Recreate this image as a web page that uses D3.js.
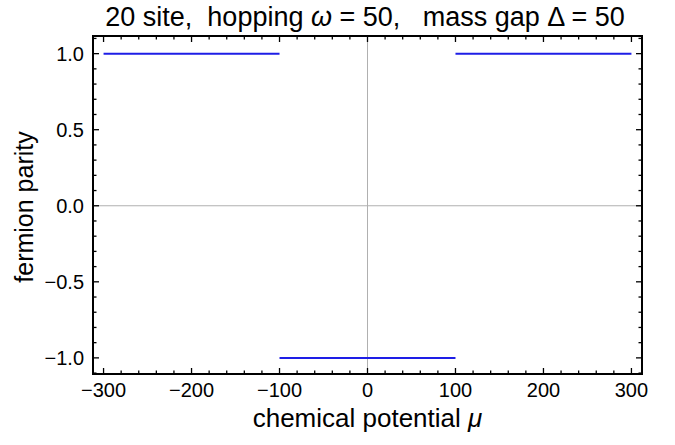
<!DOCTYPE html>
<html>
<head>
<meta charset="utf-8">
<script src="https://cdn.jsdelivr.net/npm/d3@7"></script>
<style>
  body { margin: 0; background: #fff; }
  svg text { font-family: "Liberation Sans", Arial, sans-serif; fill: #000; white-space: pre; }
</style>
</head>
<body>
<div id="chart"></div>
<script>
// step segments of the parity curve
const segStart = [-300, -100, 100];
const segEnd = [-100, 100, 300];
const segValue = [1, -1, 1];

const xTicks = [-300, -200, -100, 0, 100, 200, 300];
const yTicks = [-1.0, -0.5, 0.0, 0.5, 1.0];

const W = 675, H = 445;
const frame = { left: 93, right: 642, top: 36, bottom: 374 };

const svg = d3.select("#chart").append("svg")
    .attr("width", W)
    .attr("height", H);

const x = d3.scaleLinear().domain([-312, 312]).range([frame.left, frame.right]);
const y = d3.scaleLinear().domain([-1.106, 1.116]).range([frame.bottom, frame.top]);

// zero lines
svg.append("line")
    .attr("x1", x(0)).attr("x2", x(0))
    .attr("y1", frame.top).attr("y2", frame.bottom)
    .attr("stroke", "#b0b0b0").attr("stroke-width", 1);
svg.append("line")
    .attr("x1", frame.left).attr("x2", frame.right)
    .attr("y1", y(0)).attr("y2", y(0))
    .attr("stroke", "#b0b0b0").attr("stroke-width", 1);

// data
svg.selectAll("line.seg")
    .data(segValue)
    .enter().append("line")
    .attr("class", "seg")
    .attr("x1", (d, i) => x(segStart[i]))
    .attr("x2", (d, i) => x(segEnd[i]))
    .attr("y1", d => y(d))
    .attr("y2", d => y(d))
    .attr("stroke", "#1e1ee6")
    .attr("stroke-width", 2);

// ticks (inward, all four sides)
const xMinor = d3.range(-300, 301, 20).filter(v => v % 100 !== 0);
const yMinor = d3.range(-11, 12).map(v => v / 10).filter(v => Math.abs(v * 2 - Math.round(v * 2)) > 1e-6);

function tick(x1, y1, x2, y2) {
  svg.append("line")
      .attr("x1", x1).attr("y1", y1).attr("x2", x2).attr("y2", y2)
      .attr("stroke", "#000").attr("stroke-width", 1.3);
}
xTicks.forEach(v => {
  tick(x(v), frame.bottom, x(v), frame.bottom - 6);
  tick(x(v), frame.top, x(v), frame.top + 6);
});
xMinor.forEach(v => {
  tick(x(v), frame.bottom, x(v), frame.bottom - 3.5);
  tick(x(v), frame.top, x(v), frame.top + 3.5);
});
yTicks.forEach(v => {
  tick(frame.left, y(v), frame.left + 6, y(v));
  tick(frame.right, y(v), frame.right - 6, y(v));
});
yMinor.forEach(v => {
  if (y(v) < frame.top || y(v) > frame.bottom) return;
  tick(frame.left, y(v), frame.left + 3.5, y(v));
  tick(frame.right, y(v), frame.right - 3.5, y(v));
});

// frame
svg.append("rect")
    .attr("x", frame.left).attr("y", frame.top)
    .attr("width", frame.right - frame.left)
    .attr("height", frame.bottom - frame.top)
    .attr("fill", "none").attr("stroke", "#000").attr("stroke-width", 2);

// tick labels
const minus = s => s.replace("-", "\u2212");
svg.selectAll("text.xt")
    .data(xTicks)
    .enter().append("text")
    .attr("x", d => x(d))
    .attr("y", frame.bottom + 23)
    .attr("text-anchor", "middle")
    .style("font-size", "20px")
    .text(d => minus(d3.format("d")(d)));

svg.selectAll("text.yt")
    .data(yTicks)
    .enter().append("text")
    .attr("x", frame.left - 9)
    .attr("y", d => y(d) + 7)
    .attr("text-anchor", "end")
    .style("font-size", "20px")
    .text(d => minus(d3.format(".1f")(d)));

// title
const title = svg.append("text")
    .attr("x", 365).attr("y", 26)
    .attr("text-anchor", "middle")
    .style("font-size", "27px");
title.append("tspan").text("20 site,  hopping ");
title.append("tspan").style("font-style", "italic").text("\u03c9");
title.append("tspan").text(" = 50,   mass gap \u0394 = 50");

// axis labels
const xl = svg.append("text")
    .attr("x", x(0)).attr("y", 427)
    .attr("text-anchor", "middle")
    .style("font-size", "26px");
xl.append("tspan").text("chemical potential ");
xl.append("tspan").style("font-style", "italic").text("\u03bc");

svg.append("text")
    .attr("transform", "translate(33,207) rotate(-90)")
    .attr("text-anchor", "middle")
    .style("font-size", "25px")
    .text("fermion parity");
</script>
</body>
</html>
